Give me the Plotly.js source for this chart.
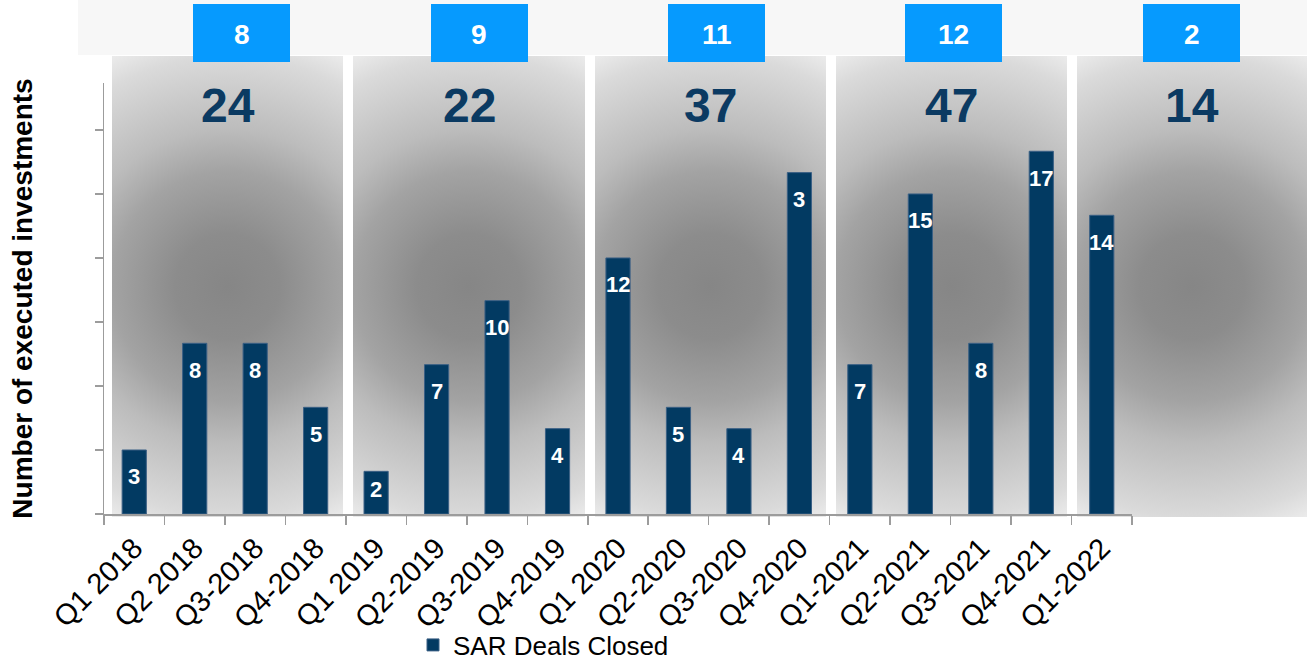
<!DOCTYPE html>
<html>
<head>
<meta charset="utf-8">
<script src="https://cdn.plot.ly/plotly-3.0.1.min.js"></script>
<style>html,body{margin:0;padding:0;background:#fff;}</style>
</head>
<body>
<div id="chart" style="width:1307px;height:662px;"></div>
<script>
// ---- data ----
const quarters = ['Q1 2018','Q2 2018','Q3-2018','Q4-2018','Q1 2019','Q2-2019','Q3-2019','Q4-2019','Q1 2020','Q2-2020','Q3-2020','Q4-2020','Q1-2021','Q2-2021','Q3-2021','Q4-2021','Q1-2022'];
const dealsClosed = [3,8,8,5,2,7,10,4,12,5,4,16,7,15,8,17,14];
const dealLabels = ['3','8','8','5','2','7','10','4','12','5','4','3','7','15','8','17','14'];
const years = ['2018','2019','2020','2021','2022'];
const yearTotals = [24,22,37,47,14];
const boxValues = [8,9,11,12,2];
const yTickVals = [0,3,6,9,12,15,18];

// ---- layout constants (pixels) ----
const W = 1307, H = 662;
const PLOT = {l:104, r:1132, t:83, b:514};
const Y_MAX = 20.2;
const PANELS = [[112,343],[353,585],[595,826],[836,1067],[1077,1307]];
const PANEL_T = 56, PANEL_B = 517;
const BOX_X0 = [193,431,668,905,1143], BOX_W = 97, BOX_T = 4, BOX_B = 62;
const R = 262;
const FONT = 'Liberation Sans, Arial, sans-serif';
const GRAY = '#9c9c9c';
const NAVY = '#023a62';
const GRAD = [[0,'#868686'],[0.2,'#8c8c8c'],[0.44,'#a3a3a3'],[0.6,'#bcbcbc'],[0.88,'#dadada'],[1,'#eeeeee']];

const traces = [];
const layout = {
  width: W, height: H,
  margin: {l:0, r:0, t:0, b:0, pad:0, autoexpand: false},
  paper_bgcolor: '#ffffff',
  plot_bgcolor: 'rgba(0,0,0,0)',
  font: {family: FONT, color: '#000'},
  showlegend: true,
  bargap: 0.6,
  shapes: [],
  annotations: []
};

// gradient panels (one subplot each, clipped to the panel)
PANELS.forEach((p, i) => {
  const sx = i === 0 ? '' : String(i + 1);
  const w = p[1] - p[0], h = PANEL_B - PANEL_T;
  layout['xaxis' + sx] = {domain: [p[0]/W, p[1]/W], range: [-w/2, w/2], visible: false, fixedrange: true, anchor: 'y' + sx};
  layout['yaxis' + sx] = {domain: [(H-PANEL_B)/H, (H-PANEL_T)/H], range: [-h/2, h/2], visible: false, fixedrange: true, anchor: 'x' + sx};
  traces.push({
    type: 'scatter', mode: 'lines',
    x: [-R, R, R, -R, -R], y: [-R, -R, R, R, -R],
    xaxis: 'x' + sx, yaxis: 'y' + sx,
    fill: 'toself', line: {width: 0},
    fillgradient: {type: 'radial', colorscale: GRAD},
    showlegend: false, hoverinfo: 'skip'
  });
  // year totals
  layout.annotations.push({
    xref: 'paper', yref: 'paper', x: (p[0] + p[1]) / 2 / W, y: 1 - 105 / H,
    text: String(yearTotals[i]), showarrow: false, xanchor: 'center', yanchor: 'middle',
    font: {size: 48, color: '#0b3a62', weight: 'bold', family: FONT}
  });
  // blue boxes
  layout.shapes.push({
    type: 'rect', xref: 'paper', yref: 'paper', layer: 'above',
    x0: BOX_X0[i]/W, x1: (BOX_X0[i] + BOX_W)/W, y0: 1 - BOX_B/H, y1: 1 - BOX_T/H,
    fillcolor: '#069afe', line: {width: 0}
  });
  layout.annotations.push({
    xref: 'paper', yref: 'paper', x: (BOX_X0[i] + BOX_W/2)/W, y: 1 - 35/H,
    text: String(boxValues[i]), showarrow: false, xanchor: 'center', yanchor: 'middle',
    font: {size: 28, color: '#ffffff', weight: 'bold', family: FONT}
  });
});

// top strip
layout.shapes.push({
  type: 'rect', xref: 'paper', yref: 'paper', layer: 'below',
  x0: 78/W, x1: 1, y0: 1 - 55/H, y1: 1,
  fillcolor: '#f7f7f7', line: {width: 0}
});

// bar subplot
layout.xaxis6 = {
  domain: [PLOT.l/W, PLOT.r/W], anchor: 'y6', type: 'category', range: [-0.5, quarters.length - 0.5],
  showline: true, linecolor: GRAY, linewidth: 1.5,
  ticks: 'outside', tickson: 'boundaries', ticklen: 9, tickcolor: GRAY, tickwidth: 1.5,
  tickangle: -45, tickfont: {size: 29, color: '#000', family: FONT}, ticklabelstandoff: 4,
  showgrid: false, zeroline: false, fixedrange: true
};
layout.yaxis6 = {
  domain: [(H - PLOT.b)/H, (H - PLOT.t)/H], anchor: 'x6', range: [0, Y_MAX],
  tickmode: 'array', tickvals: yTickVals, showticklabels: false,
  ticks: 'outside', ticklen: 8, tickcolor: GRAY, tickwidth: 1.5,
  showline: true, linecolor: GRAY, linewidth: 1.5,
  showgrid: false, zeroline: false, fixedrange: true,
  title: {text: 'Number of executed investments', standoff: 53,
          font: {size: 28, weight: 'bold', color: '#000', family: FONT}}
};
traces.push({
  type: 'bar', x: quarters, y: dealsClosed, xaxis: 'x6', yaxis: 'y6',
  name: 'SAR Deals Closed',
  marker: {color: NAVY, line: {color: '#3b6085', width: 1}},
  hoverinfo: 'x+y'
});

const pxPerUnit = (PLOT.b - PLOT.t) / Y_MAX;
quarters.forEach((q, i) => {
  layout.annotations.push({
    xref: 'x6', yref: 'y6', x: q, y: dealsClosed[i],
    text: dealLabels[i], showarrow: false, xanchor: 'center', yanchor: 'middle',
    yshift: -Math.min(27, 0.43 * dealsClosed[i] * pxPerUnit),
    font: {size: 22, color: '#ffffff', weight: 'bold', family: FONT}
  });
});

layout.legend = {
  orientation: 'h', x: 413/W, xanchor: 'left', y: 1 - 645/H, yanchor: 'middle',
  font: {size: 26, color: '#000', family: FONT}, bgcolor: 'rgba(0,0,0,0)',
  itemwidth: 30, borderwidth: 0
};

Plotly.newPlot('chart', traces, layout, {displayModeBar: false, staticPlot: true});
</script>
</body>
</html>
